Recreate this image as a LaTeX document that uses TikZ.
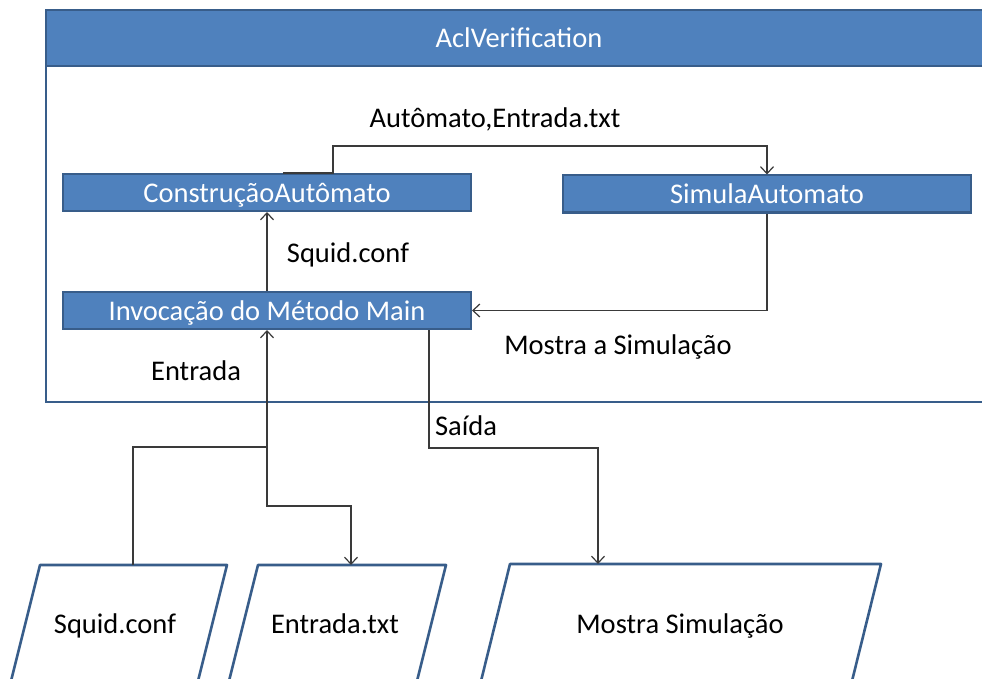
\documentclass[tikz,border=0pt]{standalone}
\usepackage{fontspec}
\setmainfont{Carlito}
\usetikzlibrary{arrows.meta,calc}
\definecolor{boxfill}{HTML}{4F81BD}
\definecolor{boxline}{HTML}{385D8A}
\definecolor{conncol}{HTML}{3A3A3A}
\tikzset{
  blue box/.style={draw=boxline, fill=boxfill, line width=2pt, minimum width=408pt, minimum height=37pt, inner sep=0pt, text height=24pt, text depth=4pt, text=white, font=\fontsize{28.5}{30}\selectfont},
  label text/.style={inner sep=0pt, text height=24pt, text depth=4pt, text=black, font=\fontsize{28.5}{30}\selectfont},
  conn/.style={draw=conncol, line width=1.2pt},
  arr/.style={conn, -{Straight Barb[length=7pt,width=13pt,line width=1.2pt]}},
  io/.style={draw=boxline, fill=white, line width=2.6pt, line join=round},
}
\begin{document}
\begin{tikzpicture}[x=1pt,y=-1pt]
\useasboundingbox (0,0) rectangle (982,679);
\clip (0,0) rectangle (982,679);
% outer frame
\draw[draw=boxline, line width=2.6pt, fill=white] (46,10) rectangle (995,402);
\draw[draw=boxline, line width=2.6pt, fill=boxfill] (46,10) rectangle (995,66);
\node[inner sep=0pt, text height=24pt, text depth=4pt, text=white, font=\fontsize{28.5}{30}\selectfont] (title) at (519,38) {AclVerification};
% process boxes
\node[blue box] (constr) at (267,192.5) {ConstruçãoAutômato};
\node[blue box] (invoc) at (267,310.5) {Invocação do Método Main};
\node[blue box] (simula) at (767,194) {SimulaAutomato};
% io parallelograms
\draw[io] (40,565) -- (227,565) -- (197,685) -- (10,685) -- cycle;
\draw[io] (258,565) -- (446,565) -- (416,685) -- (228,685) -- cycle;
\draw[io] (510,564) -- (881,564) -- (851,685) -- (480,685) -- cycle;
\node[label text] (squid) at (115,623) {Squid.conf};
\node[label text] (entrada) at (335,623) {Entrada.txt};
\node[label text] (mostra) at (680,623) {Mostra Simulação};
\coordinate (sqtop) at (133,565);
\coordinate (entop) at (351,565);
\coordinate (mstop) at (598,564);
\coordinate (jn) at (267,447);
% labels
\node[label text] (l1) at (495,118) {Autômato,Entrada.txt};
\node[label text] (l2) at (348,252) {Squid.conf};
\node[label text] (l3) at (618,344) {Mostra a Simulação};
\node[label text] (l4) at (196,370) {Entrada};
\node[label text] (l5) at (466,425) {Saída};
% connectors
\draw[arr] ($(constr.north)+(16,0)$) -- ($(constr.north)+(66,0)$) -- ++(0,-27) -| (simula.north);
\draw[arr] (invoc.north) -- (constr.south);
\draw[arr] (simula.south) |- (invoc.east);
\draw[arr] (sqtop) |- (jn) -- (invoc.south);
\draw[arr] (jn) -- ++(0,59) -| (entop);
\draw[arr] ($(invoc.south east)+(-43,0)$) -- ++(0,118) -| (mstop);
\end{tikzpicture}
\end{document}
